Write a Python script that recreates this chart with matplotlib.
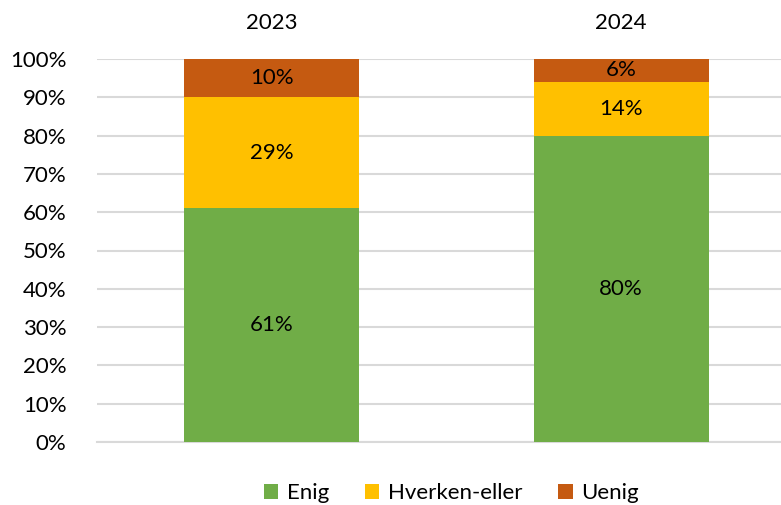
import matplotlib.pyplot as plt
import numpy as np

plt.rcParams['font.family'] = ['Lato', 'DejaVu Sans']

years = ["2023", "2024"]
enig = [61, 80]
hverken = [29, 14]
uenig = [10, 6]

series = [("Enig", enig, "#70ad47"), ("Hverken-eller", hverken, "#ffc000"), ("Uenig", uenig, "#c55a11")]

fig = plt.figure(figsize=(7.81, 5.05), dpi=100)
ax = fig.add_axes([97/781, 63/505, 1 - 97/781, 383/505])

x = np.arange(len(years))
bottom = np.zeros(len(years))
for name, vals, col in series:
    vals = np.array(vals, dtype=float)
    ax.bar(x, vals, 0.5, bottom=bottom, color=col, label=name, zorder=3)
    for xi, b, v in zip(x, bottom, vals):
        ax.text(xi, b + v / 2, f"{int(v)}%", ha="center", va="center", fontsize=16, color="black", zorder=4)
    bottom += vals

ax.set_ylim(0, 100)
ax.set_xlim(-0.5, (781 - 271) / 350)
ax.set_yticks(np.arange(0, 101, 10))
ax.set_yticklabels([f"{v}%" for v in range(0, 101, 10)], fontsize=16)
ax.set_xticks(x)
ax.set_xticklabels(years, fontsize=16)
ax.xaxis.tick_top()
ax.tick_params(axis="both", length=0)
ax.tick_params(axis="x", pad=19)
ax.tick_params(axis="y", pad=22)
ax.grid(axis="y", color="#d9d9d9", linewidth=1.5, zorder=0)
for s in ["top", "right", "left"]:
    ax.spines[s].set_visible(False)
ax.spines["bottom"].set_color("#d9d9d9")
ax.spines["bottom"].set_linewidth(1.5)

fig.legend(loc="center", bbox_to_anchor=(0.578, 12/505), ncol=3, frameon=False, fontsize=16,
           handlelength=0.65, handleheight=0.65, handletextpad=0.4, columnspacing=1.6)

plt.savefig("out.png", dpi=100)
